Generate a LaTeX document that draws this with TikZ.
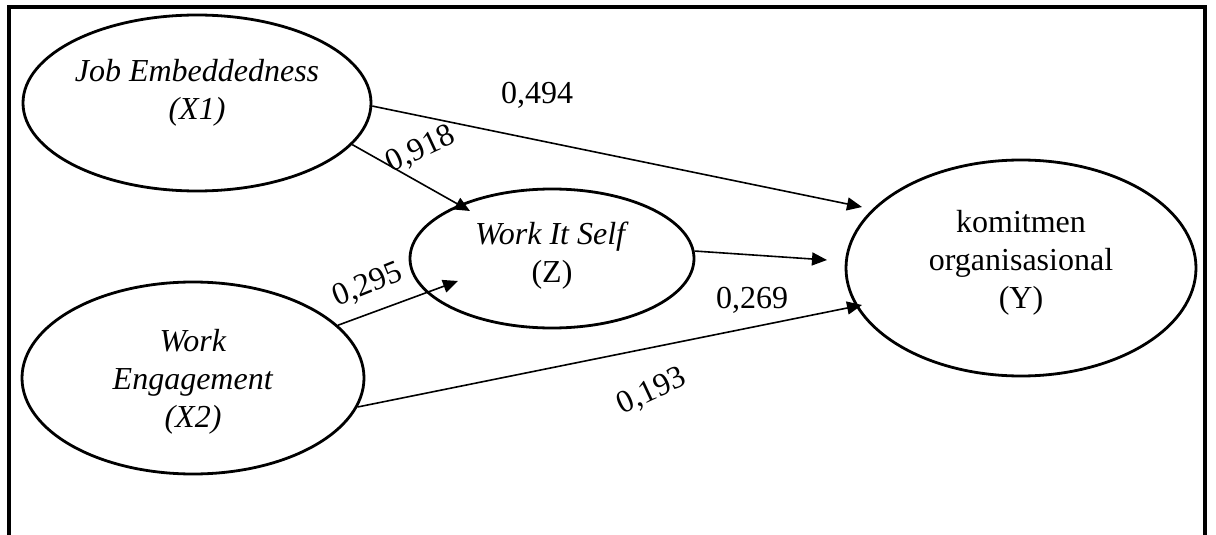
\documentclass[tikz,border=0pt]{standalone}
\usepackage{fontspec}
\setmainfont{Liberation Serif}[
	UprightFont={Liberation Serif},
	ItalicFont={Liberation Serif Italic}]
\usetikzlibrary{arrows.meta, shapes.geometric}

\begin{document}
\begin{tikzpicture}[x=0.5pt, y=-0.5pt,
		construct/.style={draw, ellipse, line width=1.4pt, inner sep=0pt},
		construct-text/.style={align=center, inner sep=0pt, font=\fontsize{16}{19}\selectfont},
		path-arrow/.style={-{Triangle[length=7.5pt, width=6.5pt]}, line width=0.8pt},
		coefficient/.style={inner sep=0pt, font=\fontsize{16}{19}\selectfont}]
				\useasboundingbox (0, 0) rectangle (1216, 535);
				\draw[line width=2pt] (9, 535) -- (9, 7) -- (1205, 7) -- (1205, 535);

				\node[construct, minimum width=174pt, minimum height=88pt] at (197, 103) (job-embeddedness) {};
				\node[construct, minimum width=171pt, minimum height=96pt] at (193, 378) (work-engagement) {};
				\node[construct, minimum width=142pt, minimum height=69.5pt] at (552, 258.5) (work-it-self) {};
				\node[construct, minimum width=175pt, minimum height=108pt] at (1021, 268) (komitmen) {};

				\node[construct-text] at (197, 93) (job-embeddedness-text) {\textit{Job Embeddedness}\\\textit{(X1)}};
				\node[construct-text] at (193, 382) (work-engagement-text) {\textit{Work}\\\textit{Engagement}\\\textit{(X2)}};
				\node[construct-text] at (552, 256) (work-it-self-text) {\textit{Work It Self}\\(Z)};
				\node[construct-text] at (1021, 263) (komitmen-text) {komitmen\\organisasional\\(Y)};

				\coordinate (komitmen-in-top) at (862, 207);
				\coordinate (komitmen-in-middle) at (827, 260);
				\coordinate (komitmen-in-bottom) at (862, 305);
				\coordinate (work-it-self-in-top) at (470, 211);
				\coordinate (work-it-self-in-left) at (458, 281);

				\draw[path-arrow] (job-embeddedness.-1) -- (komitmen-in-top);
				\draw[path-arrow] (job-embeddedness.-15.5) -- (work-it-self-in-top);
				\draw[path-arrow] (work-engagement.20.6) -- (work-it-self-in-left);
				\draw[path-arrow] (work-it-self.3.5) -- (komitmen-in-middle);
				\draw[path-arrow] (work-engagement.-10) -- (komitmen-in-bottom);

				\node[coefficient] at (537, 95) (coef-x1-y) {0,494};
				\node[coefficient, rotate=25] at (421, 150) (coef-x1-z) {0,918};
				\node[coefficient, rotate=22] at (368, 285) (coef-x2-z) {0,295};
				\node[coefficient] at (752, 300) (coef-z-y) {0,269};
				\node[coefficient, rotate=25] at (652, 392) (coef-x2-y) {0,193};
			\end{tikzpicture}
\end{document}
